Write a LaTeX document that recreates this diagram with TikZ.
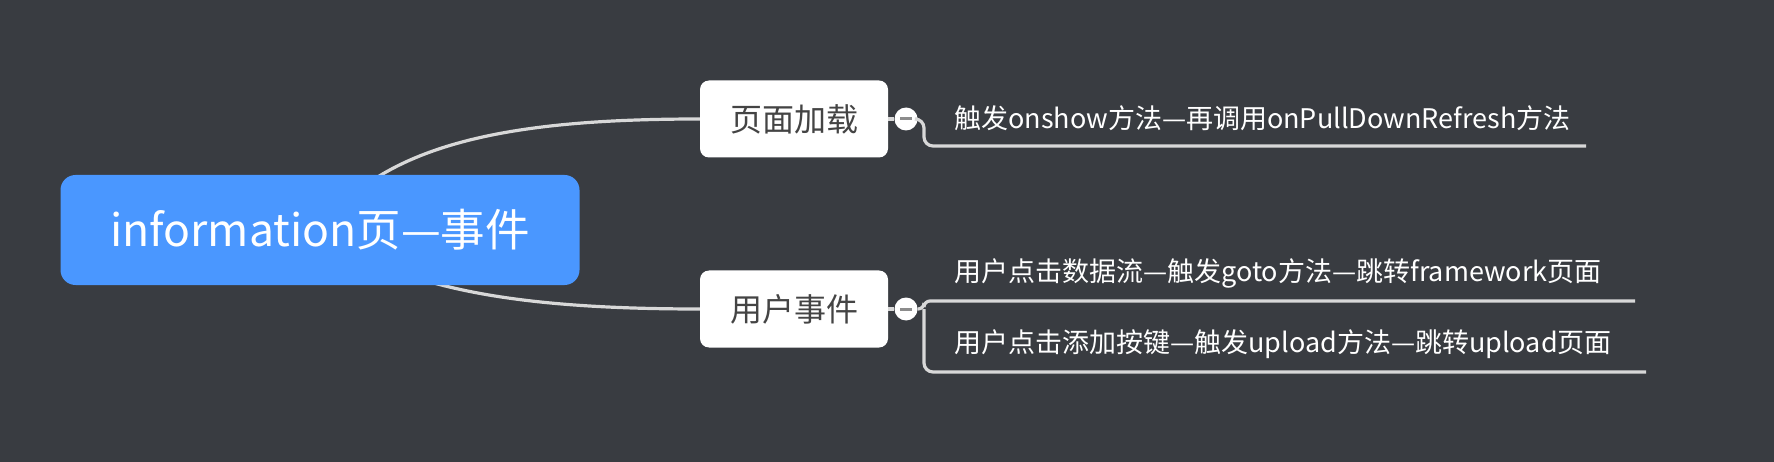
\documentclass[tikz,border=0pt]{standalone}
\usepackage{fontspec}
\setmainfont{Noto Sans CJK SC}
\usetikzlibrary{backgrounds}

\definecolor{bgdark}{HTML}{393C41}
\definecolor{rootblue}{HTML}{4A97FF}
\definecolor{linegrey}{HTML}{D8D8D8}
\definecolor{topictext}{HTML}{444444}
\definecolor{foldgrey}{HTML}{8C8C8C}

\tikzset{
  root/.style={fill=rootblue, rounded corners=15pt, text=white, minimum width=519pt, minimum height=110pt, inner sep=0pt, font=\fontsize{44.5}{48}\selectfont},
  topic/.style={fill=white, rounded corners=9pt, text=topictext, minimum width=188pt, minimum height=77pt, inner sep=0pt, font=\fontsize{32}{36}\selectfont},
  leaf/.style={text=white, anchor=west, inner sep=0pt, font=\fontsize{27}{30}\selectfont},
  link/.style={draw=linegrey, line width=3.2pt},
  fold/.style={circle, fill=white, minimum size=23pt, inner sep=0pt,
    path picture={\draw[foldgrey, line width=3pt] ([xshift=-6pt]path picture bounding box.center) -- ([xshift=6pt]path picture bounding box.center);}}
}

\begin{document}
\begin{tikzpicture}[x=1pt, y=-1pt]
			%%%%% frame %%%%%
			\useasboundingbox (0,0) rectangle (1774,462);
			
			%%%%% nodes %%%%%
			\node[root] (info) at (320,230) {information页—事件};
			
			\node[topic] (load) at (794,119) {页面加载};
			\node[topic] (user) at (794,309) {用户事件};
			
			\node[fold] (loadfold) at (906,119) {};
			\node[fold] (userfold) at (906,309) {};
			
			\node[leaf] (show) at (954,118) {触发onshow方法—再调用onPullDownRefresh方法};
			\node[leaf] (goto) at (954,273) {用户点击数据流—触发goto方法—跳转framework页面};
			\node[leaf] (upload) at (954,344) {用户点击添加按键—触发upload方法—跳转upload页面};
			
			\coordinate (showend) at (1586,146);
			\coordinate (gotoend) at (1635,301);
			\coordinate (uploadend) at (1646,372);
			
			%%%%% links %%%%%
			\begin{scope}[on background layer]
				\fill[bgdark] (0,0) rectangle (1774,462);
				\draw[link] (info.center) .. controls (385,140) and (520,119) .. (load.west);
				\draw[link] (info.center) .. controls (400,290) and (520,309) .. (user.west);
			\end{scope}
			
			\draw[link] (load.east) -- (loadfold);
			\draw[link] (user.east) -- (userfold);
			
			\draw[link, rounded corners=9pt] (loadfold.east) -- (924,119) -- (924,146) -- (showend);
			\draw[link, rounded corners=6pt] (userfold.east) -- (924,309) -- (924,301) -- (gotoend);
			\draw[link, rounded corners=9pt] (924,309) -- (924,372) -- (uploadend);
			
		\end{tikzpicture}
\end{document}
